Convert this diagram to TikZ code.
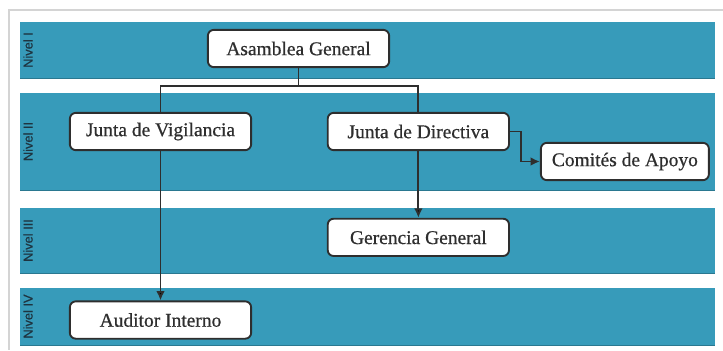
\documentclass[tikz,border=0pt]{standalone}
\usepackage{fontspec}
\setmainfont{Liberation Serif}
\newfontfamily\boxfont[FakeBold=0.6]{Liberation Serif}
\newfontfamily\levelfont[FakeBold=0.6]{Liberation Sans}
\usetikzlibrary{positioning,arrows.meta}

\definecolor{bandblue}{HTML}{379BBA}
\definecolor{bandedge}{HTML}{2A7890}
\definecolor{linegray}{HTML}{2E2E2E}
\definecolor{framegray}{HTML}{D4D4D4}
\definecolor{leveltext}{HTML}{1E3440}

\begin{document}
\begin{tikzpicture}[x=0.75pt,y=-0.75pt,>={Latex[length=7pt,width=6.5pt]},
	box/.style={draw=linegray,line width=1.4pt,fill=white,rounded corners=4.5pt,
		minimum width=136pt,minimum height=28pt,text=linegray,
		font=\boxfont\fontsize{14.6}{16}\selectfont},
	band/.style={fill=bandblue},
	level/.style={rotate=90,text=leveltext,font=\levelfont\fontsize{9.6}{10}\selectfont}]

\useasboundingbox (0,0) rectangle (723,350);

% frame and bands
\draw [framegray,line width=0.8pt] (723,10) -- (9,10) -- (9,350);
\foreach \top/\bot/\name in {22/78/I,93/190/II,208/273/III,288/345/IV}{
	\fill [band] (20,\top) rectangle (715,\bot);
	\draw [bandedge,line width=0.6pt] (20,\bot) -- (715,\bot);
	\node [level] at (28,{(\top+\bot)/2}) {Nivel \name};
}

\node [box] (asm) at (298.5,48.5) {Asamblea General};
\node [box] (vig) at (160.5,131.5) {Junta de Vigilancia};
\node [box] (dir) [right=56pt of vig] {Junta de Directiva};
\node [box,minimum width=126pt] (com) [right=22.5pt of dir,yshift=-22.5pt] {Comités de Apoyo};
\node [box] (ger) [below=50pt of dir] {Gerencia General};
\node [box] (aud) [below=112pt of vig] {Auditor Interno};

\path (asm.south) ++(0,18) coordinate (fork);

\draw [linegray,line width=1.4pt] (asm.south) -- (fork);
\path [draw=linegray,line width=1.4pt,->]
	(fork) -| (vig.north)
	(fork) -| (dir.north)
	(vig) edge (aud)
	(dir) edge (ger)
	(dir.east) -- ++(11,0) |- (com.west)
;

\end{tikzpicture}
\end{document}
